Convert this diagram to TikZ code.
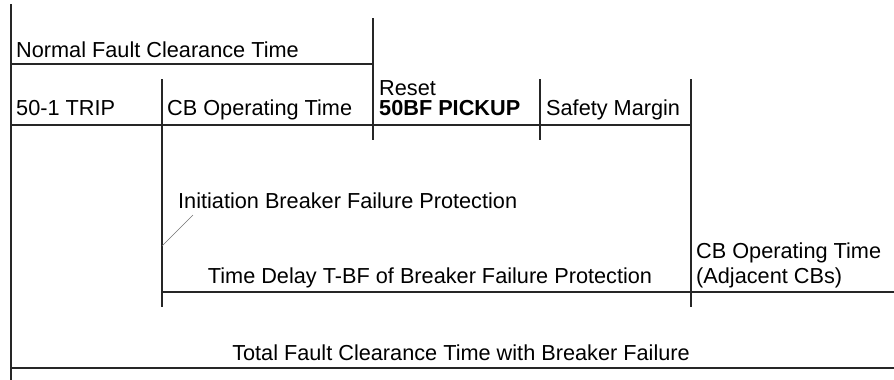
\documentclass[tikz,border=0pt]{standalone}
\usepackage{fontspec}
\setmainfont{Liberation Sans}
\begin{document}
\begin{tikzpicture}[x=1pt,y=-1pt,
  lbl/.style={anchor=base west,inner sep=0pt,font=\fontsize{21.7}{26}\selectfont},
  lblc/.style={anchor=base,inner sep=0pt,font=\fontsize{21.7}{26}\selectfont},
  rule/.style={draw=black!85,line width=1.1pt},
  leader/.style={draw=black!55,line width=0.6pt}]
\useasboundingbox (0,0) rectangle (894,380);
% vertical lines
\draw[rule] (11,4) -- (11,380);
\draw[rule] (373,18) -- (373,140);
\draw[rule] (162,79) -- (162,307);
\draw[rule] (540,79) -- (540,140);
\draw[rule] (691,79) -- (691,307);
% horizontal lines
\draw[rule] (11,64) -- (373,64);
\draw[rule] (11,125) -- (691,125);
\draw[rule] (162,292) -- (894,292);
\draw[rule] (11,368) -- (894,368);
% texts
\node[lbl] (nfct) at (16,57) {Normal Fault Clearance Time};
\node[lbl] (trip) at (16,115) {50-1 TRIP};
\node[lbl] (cbop) at (167,115) {CB Operating Time};
\node[lbl] (reset) at (379,95) {Reset};
\node[lbl] (pick) at (379,115) {\bfseries 50BF PICKUP};
\node[lbl] (safe) at (546,115) {Safety Margin};
\node[lbl] (init) at (178,208) {Initiation Breaker Failure Protection};
\node[lblc] (tbf) at (430,283) {Time Delay T-BF of Breaker Failure Protection};
\node[lbl] (cbadj) at (696,258) {CB Operating Time};
\node[lbl] (adj) at (696,283) {(Adjacent CBs)};
\node[lblc] (total) at (461,360) {Total Fault Clearance Time with Breaker Failure};
% leader
\coordinate (lead0) at (193,215);
\coordinate (lead1) at (162,246);
\draw[leader] (lead0) -- (lead1);
\end{tikzpicture}
\end{document}
